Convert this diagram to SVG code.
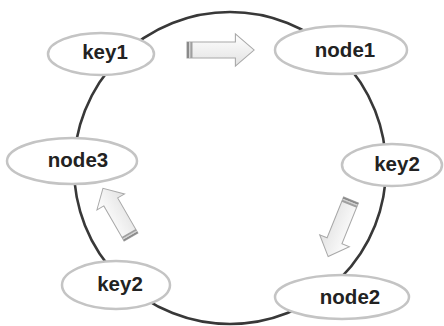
<svg xmlns="http://www.w3.org/2000/svg" width="444" height="326" viewBox="0 0 444 326">
<style>
.node ellipse{fill:#fff;stroke:#c4c4c4;stroke-width:2.5}
.node text{font-family:"Liberation Sans",Arial,sans-serif;font-weight:bold;font-size:20.5px;fill:#222;text-anchor:middle}
.ring{fill:none;stroke:#383838;stroke-width:2.6}
.arrow{fill:url(#ag);stroke:#a8a8a8;stroke-width:1}
</style>
<defs>
<linearGradient id="ag" x1="0" y1="0" x2="0" y2="1">
<stop offset="0" stop-color="#ffffff"/>
<stop offset="1" stop-color="#e2e2e2"/>
</linearGradient>
<g id="arr">
<path class="arrow" d="M0,-8 H44 V-16 L61,0 L44,16 V8 H0 Z"/>
<rect x="0" y="-8" width="2" height="16" fill="#8a8a8a"/>
<rect x="2" y="-8" width="1" height="16" fill="#d0d0d0"/>
<rect x="3" y="-8" width="2" height="16" fill="#a0a0a0"/>
</g>
</defs>
<rect width="444" height="326" fill="#fff"/>
<g id="connectors">
<circle class="ring" cx="230" cy="168" r="156"/>
<use href="#arr" transform="translate(187,50) scale(1.1,1)"/>
<use href="#arr" transform="translate(351,200) rotate(112)"/>
<use href="#arr" transform="translate(131,237) rotate(-120) scale(0.92,1)"/>
</g>
<g id="key1" class="node"><ellipse cx="101" cy="54" rx="53" ry="21"/><text x="105" y="59">key1</text></g>
<g id="node1" class="node"><ellipse cx="341" cy="50" rx="66" ry="24"/><text x="345" y="57">node1</text></g>
<g id="key2a" class="node"><ellipse cx="392" cy="165" rx="50" ry="21"/><text x="397" y="171">key2</text></g>
<g id="node3" class="node"><ellipse cx="72" cy="161" rx="65" ry="23"/><text x="78" y="167">node3</text></g>
<g id="key2b" class="node"><ellipse cx="116" cy="285" rx="54" ry="24"/><text x="120" y="291">key2</text></g>
<g id="node2" class="node"><ellipse cx="342" cy="297" rx="67" ry="22"/><text x="350" y="304">node2</text></g>
</svg>
